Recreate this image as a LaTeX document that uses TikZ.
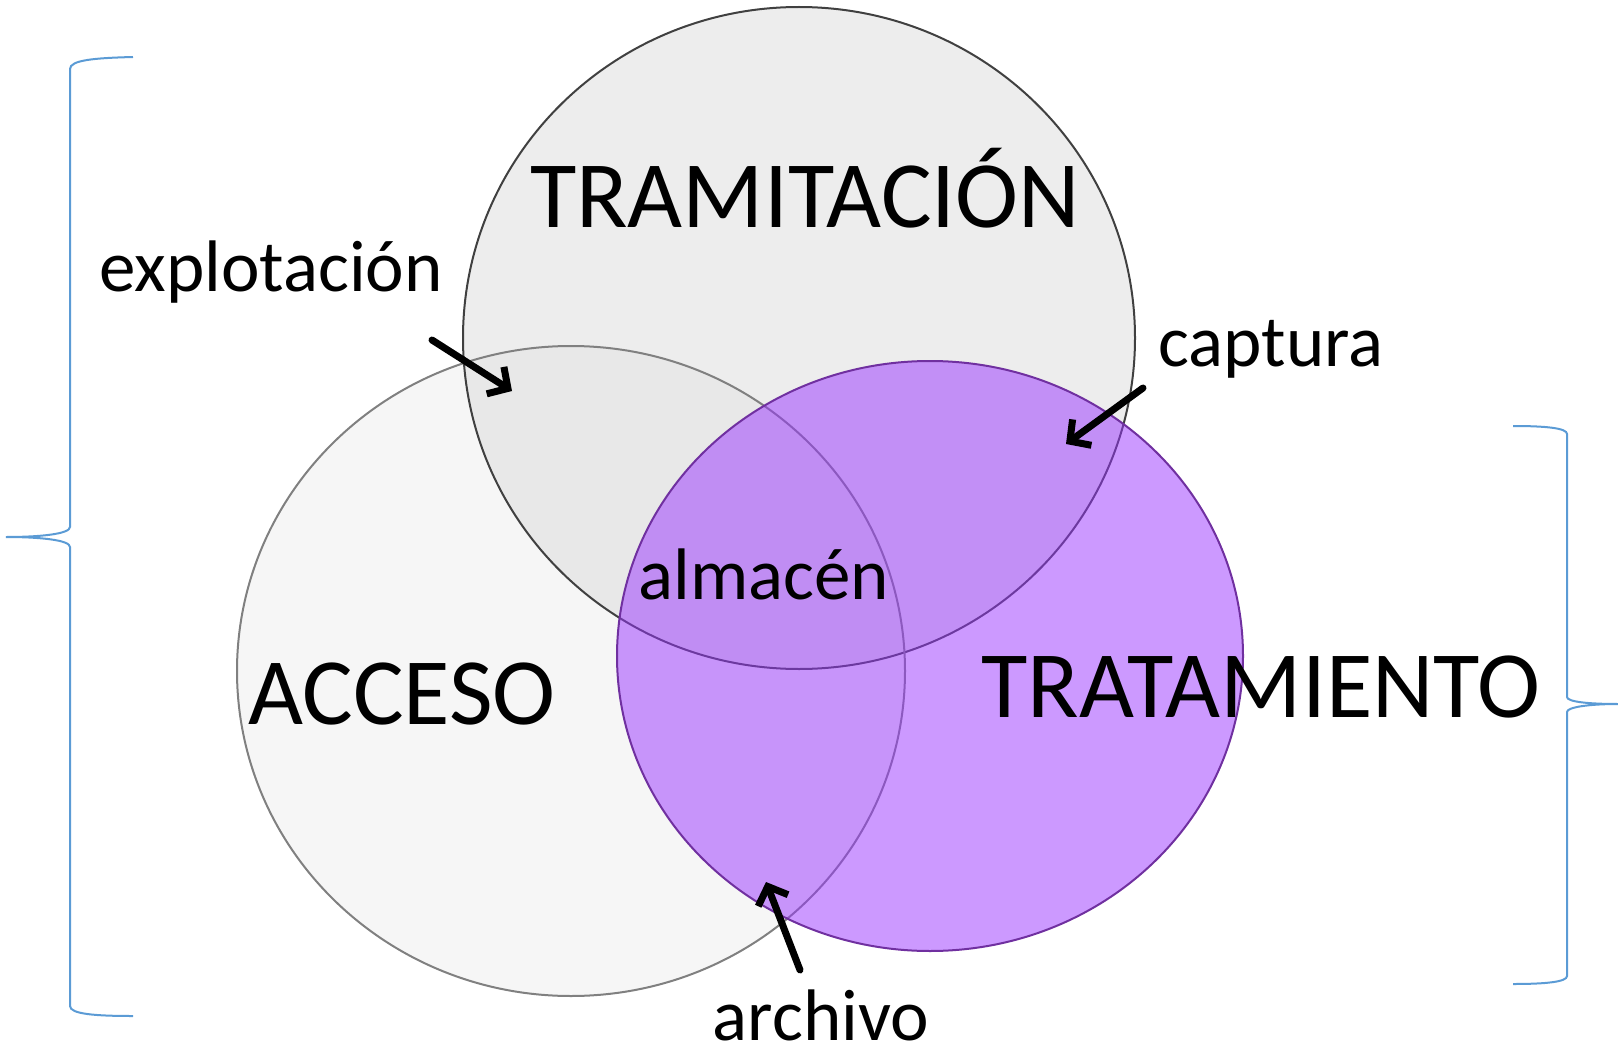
\documentclass[tikz,border=0pt]{standalone}
\usepackage{fontspec}
\setmainfont{Carlito}
\usetikzlibrary{arrows.meta}
\definecolor{tramfill}{HTML}{EDEDED}
\definecolor{tramline}{HTML}{404040}
\definecolor{accfill}{HTML}{DADADA}
\definecolor{accline}{HTML}{808080}
\definecolor{tratfill}{HTML}{9933FF}
\definecolor{tratline}{HTML}{7030A0}
\definecolor{bracecol}{HTML}{5B9BD5}
\begin{document}
\begin{tikzpicture}[x=1pt,y=-1pt,
  bigtext/.style={anchor=base, inner sep=0pt, font=\fontsize{95}{100}\selectfont},
  smalltext/.style={anchor=base, inner sep=0pt, font=\fontsize{73}{80}\selectfont},
  pointer/.style={line width=7pt, line cap=round, line join=round, -{Straight Barb[length=15pt,width=32pt]}},
  bracestyle/.style={draw=bracecol, line width=2pt},
  setline/.style={line width=2pt}]
\useasboundingbox (0,0) rectangle (1618,1054);

% sets
\fill[tramfill] (799,338) ellipse [x radius=336, y radius=331];
\fill[accfill, fill opacity=0.25] (571,671) ellipse [x radius=334, y radius=325];
\draw[setline, tramline] (799,338) ellipse [x radius=336, y radius=331];
\draw[setline, accline] (571,671) ellipse [x radius=334, y radius=325];
\fill[tratfill, fill opacity=0.5] (930,656) ellipse [x radius=313, y radius=295];
\draw[setline, tratline] (930,656) ellipse [x radius=313, y radius=295];

% braces
\draw[bracestyle] (133,57) .. controls (95,58) and (70,60) .. (70,69) -- (70,527)
  .. controls (70,534) and (40,537) .. (6,537)
  .. controls (40,537) and (70,540) .. (70,547) -- (70,1006)
  .. controls (70,1014) and (95,1016) .. (133,1016);
\draw[bracestyle] (1513,426) .. controls (1545,426) and (1567,428) .. (1567,434) -- (1567,697)
  .. controls (1567,702) and (1590,704) .. (1618,704)
  .. controls (1590,704) and (1567,707) .. (1567,712) -- (1567,976)
  .. controls (1567,982) and (1545,984) .. (1513,984);

% labels
\node[bigtext] (tram) at (805,227) {TRAMITACIÓN};
\node[bigtext] (acc) at (402,724) {ACCESO};
\node[bigtext] (trat) at (1261,717) {TRATAMIENTO};
\node[smalltext] (alm) at (764,599) {almacén};
\node[smalltext] (expl) at (271,291) {explotación};
\node[smalltext] (capt) at (1271,366) {captura};
\node[smalltext] (arch) at (821,1040) {archivo};

% pointers
\coordinate (explstart) at (432,340);
\coordinate (expltip) at (512,391);
\coordinate (captstart) at (1143,388);
\coordinate (capttip) at (1066,444);
\coordinate (archstart) at (800,970);
\coordinate (archtip) at (766,882);
\draw[pointer] (explstart) -- (expltip);
\draw[pointer] (captstart) -- (capttip);
\draw[pointer] (archstart) -- (archtip);
\end{tikzpicture}
\end{document}
